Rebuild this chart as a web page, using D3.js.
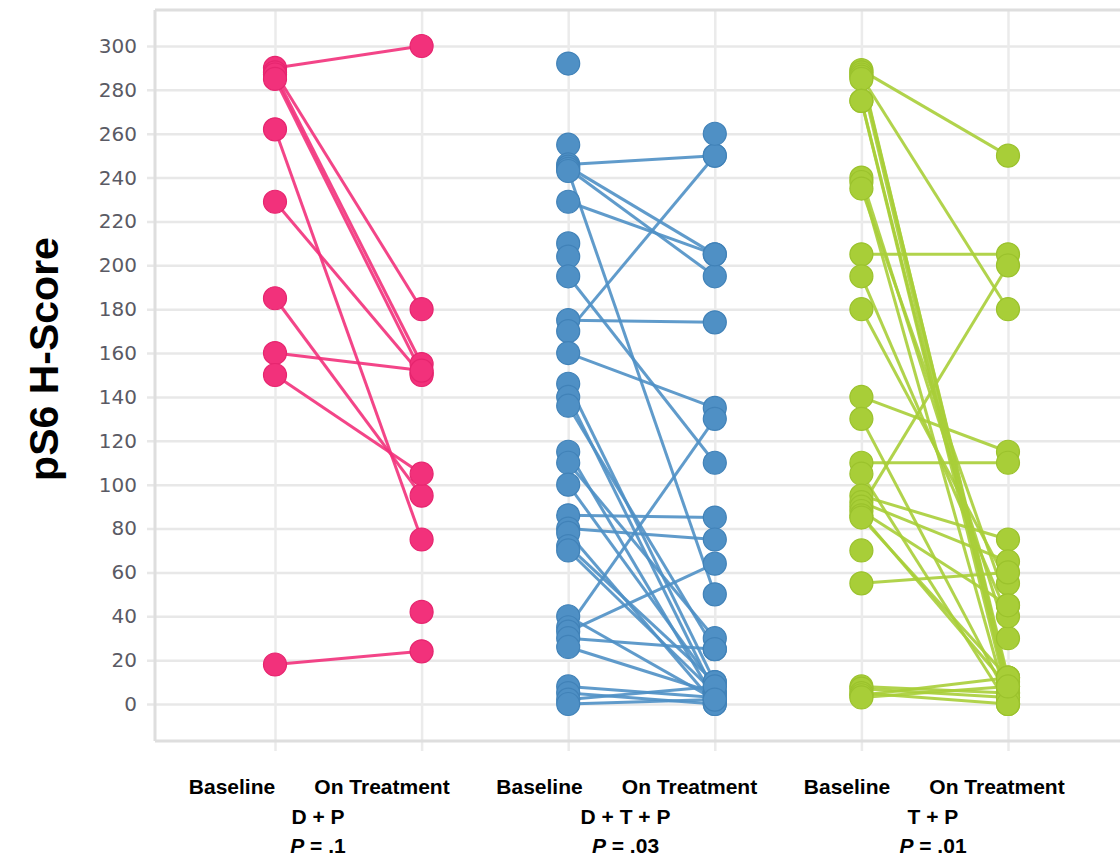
<!DOCTYPE html>
<html>
<head>
<meta charset="utf-8">
<script src="https://cdn.jsdelivr.net/npm/d3@7"></script>
<style>
  html, body { margin: 0; padding: 0; background: #ffffff; }
  svg { display: block; }
</style>
</head>
<body>
<svg id="chart" width="1120" height="860"></svg>
<script>
// Paired pS6 H-scores per patient: baseline value and on-treatment value (null = no pair)
const groups = ["D + P", "D + T + P", "T + P"];
const stages = ["Baseline", "On Treatment"];
const pValues = [".1", ".03", ".01"];
const yTicks = [0, 20, 40, 60, 80, 100, 120, 140, 160, 180, 200, 220, 240, 260, 280, 300];

const dpBaseline    = [290, 288, 287, 285, 262, 229, 185, 160, 150, 18, null];
const dpOnTreatment = [300, 180, 155, 151, 75, 150, 95, 152, 105, 24, 42];

const dtpBaseline    = [292, 255, 246, 245, 244, 243, 229, 210, 204, 195, 175, 170, 160, 146, 140, 136, 115, 110, 100, 86, 80, 78, 72, 70, 40, 35, 33, 30, 26, 8, 5, 2, 0, null];
const dtpOnTreatment = [null, null, 250, 205, 195, 50, 205, null, null, 110, 174, 250, 135, 10, 5, 25, 2, 30, 8, 85, 75, 0, 10, 5, 2, 130, 64, 25, 5, 3, 0, 8, 2, 260];

const tpBaseline    = [289, 288, 287, 286, 285, 275, 275, 240, 238, 235, 205, 195, 180, 140, 130, 110, 105, 95, 92, 90, 88, 86, 85, 70, 55, 8, 7, 5, 4, 3];
const tpOnTreatment = [250, 10, 12, 180, 5, 8, 3, 30, 0, 45, 205, 40, 55, 115, 3, 110, 0, 75, 65, 200, 45, 8, 12, null, 60, 5, 3, 0, 12, 8];

const seriesBaseline = [dpBaseline, dtpBaseline, tpBaseline];
const seriesOnTreatment = [dpOnTreatment, dtpOnTreatment, tpOnTreatment];
const colors = ["#f2317b", "#4f90c5", "#a8ce38"];
const strokes = ["#e6256f", "#4182b8", "#9bc22d"];

const svg = d3.select("#chart");
const W = 1120;

const frame = { left: 155, top: 10, bottom: 741 };

const y = d3.scaleLinear().domain([0, 300]).range([704, 46]);

const categories = groups.flatMap(g => stages.map(s => g + "|" + s));
const x = d3.scalePoint().domain(categories).range([275, 1008]);

// Label anchor per group (center of the group caption)
const labelX = d3.scalePoint().domain(groups).range([318, 933]);

svg.append("rect").attr("width", W).attr("height", 860).attr("fill", "#ffffff");

// Horizontal grid + y tick labels
const yAxis = d3.axisLeft(y)
  .tickValues(yTicks)
  .tickSize(-(W - 147))
  .tickPadding(10)
  .tickFormat(d3.format("d"));

const gy = svg.append("g")
  .attr("transform", "translate(147,0)")
  .call(yAxis);
gy.select(".domain").remove();
gy.selectAll(".tick line").attr("stroke", "#e8e8e8").attr("stroke-width", 2.5);
gy.selectAll(".tick text")
  .attr("fill", "#5a5a64")
  .attr("font-family", "DejaVu Sans, sans-serif")
  .attr("font-size", 20);

// Vertical grid at each category
const xAxis = d3.axisBottom(x).tickSize(frame.bottom - frame.top + 10).tickFormat("");
const gx = svg.append("g")
  .attr("transform", `translate(0,${frame.top})`)
  .call(xAxis);
gx.select(".domain").remove();
gx.selectAll(".tick line").attr("stroke", "#ebebeb").attr("stroke-width", 2.5);

// Plot frame
const frameG = svg.append("g").attr("stroke", "#dedede").attr("stroke-width", 3).attr("fill", "none");
frameG.append("line").attr("x1", frame.left).attr("x2", W).attr("y1", frame.top).attr("y2", frame.top);
frameG.append("line").attr("x1", frame.left).attr("x2", frame.left).attr("y1", frame.top).attr("y2", frame.bottom);
frameG.append("line").attr("x1", frame.left).attr("x2", W).attr("y1", frame.bottom).attr("y2", frame.bottom);

// Patient pairs: connecting lines, then dots
groups.forEach((g, gi) => {
  const xb = x(g + "|Baseline");
  const xo = x(g + "|On Treatment");
  const base = seriesBaseline[gi];
  const onT = seriesOnTreatment[gi];
  const pairs = base.map((b, i) => ({ b, o: onT[i] }));

  const layer = svg.append("g");
  layer.selectAll("line.pair")
    .data(pairs.filter(p => p.b != null && p.o != null))
    .join("line")
    .attr("class", "pair")
    .attr("x1", xb).attr("y1", p => y(p.b))
    .attr("x2", xo).attr("y2", p => y(p.o))
    .attr("stroke", colors[gi])
    .attr("stroke-width", 3)
    .attr("stroke-opacity", 0.9);

  const dots = [];
  pairs.forEach(p => {
    if (p.b != null) dots.push({ cx: xb, v: p.b });
    if (p.o != null) dots.push({ cx: xo, v: p.o });
  });
  layer.selectAll("circle")
    .data(dots)
    .join("circle")
    .attr("cx", d => d.cx)
    .attr("cy", d => y(d.v))
    .attr("r", 11.5)
    .attr("fill", colors[gi])
    .attr("stroke", strokes[gi])
    .attr("stroke-width", 1.2);
});

// Y title
svg.append("text")
  .attr("transform", "translate(58,359) rotate(-90)")
  .attr("text-anchor", "middle")
  .attr("font-family", "Liberation Sans, Arial, sans-serif")
  .attr("font-weight", "bold")
  .attr("font-size", 41)
  .attr("fill", "#000")
  .text("pS6 H-Score");

// Category labels under each group
const lab = svg.append("g")
  .attr("font-family", "Liberation Sans, Arial, sans-serif")
  .attr("font-weight", "bold")
  .attr("font-size", 21)
  .attr("fill", "#000")
  .attr("text-anchor", "middle");

groups.forEach((g, gi) => {
  const cx = labelX(g);
  lab.append("text").attr("x", cx - 86).attr("y", 794).text(stages[0]);
  lab.append("text").attr("x", cx + 64).attr("y", 794).text(stages[1]);
  lab.append("text").attr("x", cx).attr("y", 824).text(g);
  const pt = lab.append("text").attr("x", cx).attr("y", 853);
  pt.append("tspan").attr("font-style", "italic").text("P");
  pt.append("tspan").text(" = " + pValues[gi]);
});
</script>
</body>
</html>
